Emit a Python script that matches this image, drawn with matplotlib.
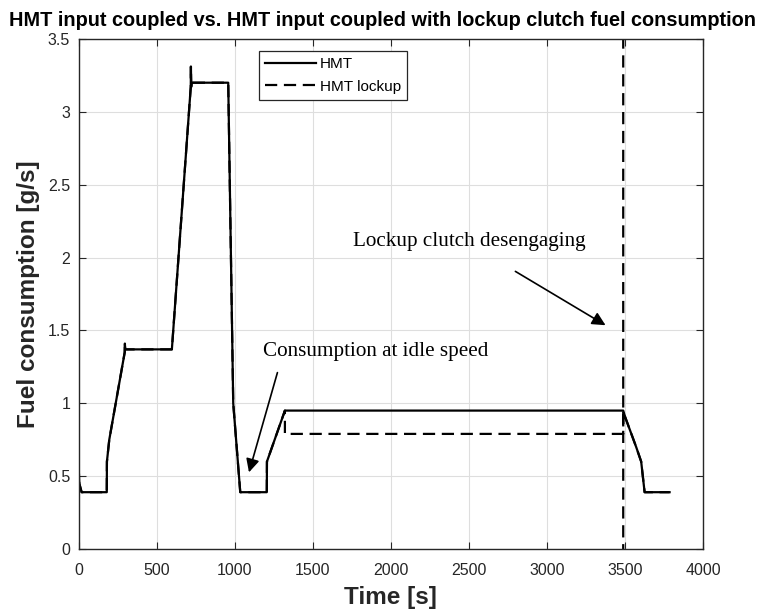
import numpy as np
import matplotlib
matplotlib.use("Agg")
import matplotlib.pyplot as plt

# Fuel consumption [g/s]
hmt_time = [0, 5, 20, 181, 182, 197, 296, 297, 299, 598, 719, 720, 722, 724,
            959, 991, 1036, 1206, 1207, 1322, 3489, 3500, 3572, 3604, 3626, 3786]
hmt_fuel = [0.59, 0.45, 0.39, 0.39, 0.60, 0.75, 1.35, 1.41, 1.37, 1.37, 3.17, 3.31, 3.17, 3.2,
            3.2, 1.0, 0.39, 0.39, 0.60, 0.95, 0.95, 0.91, 0.70, 0.60, 0.39, 0.39]

# lockup variant: same until 1322 s, then lower plateau and a spike when the clutch opens
lockup_time = [0, 5, 20, 181, 182, 197, 296, 297, 299, 598, 719, 720, 722, 724,
               959, 991, 1036, 1206, 1207, 1322, 1322, 3489, 3489, np.nan, 3489, 3489,
               3500, 3572, 3604, 3626, 3786]
lockup_fuel = [0.59, 0.45, 0.39, 0.39, 0.60, 0.75, 1.35, 1.41, 1.37, 1.37, 3.17, 3.31, 3.17, 3.2,
               3.2, 1.0, 0.39, 0.39, 0.60, 0.95, 0.79, 0.79, 4.0, np.nan, -0.5, 0.95,
               0.91, 0.70, 0.60, 0.39, 0.39]

x_ticks = [0, 500, 1000, 1500, 2000, 2500, 3000, 3500, 4000]
y_ticks = [0, 0.5, 1, 1.5, 2, 2.5, 3, 3.5]
y_tick_labels = ['0', '0.5', '1', '1.5', '2', '2.5', '3', '3.5']

plt.rcParams['font.family'] = ['Liberation Sans', 'DejaVu Sans']
txt_col = '#262626'

fig = plt.figure(figsize=(7.6, 6.12), dpi=100)
ax = fig.add_axes([0.1033, 0.1029, 0.8217, 0.8334])

ax.plot(hmt_time, hmt_fuel, color='k', lw=1.6, label='HMT')
ax.plot(lockup_time, lockup_fuel, color='k', lw=1.6, linestyle=(0, (5.5, 3.0)), label='HMT lockup')

ax.set_xlim(0, 4000)
ax.set_ylim(0, 3.5)
ax.set_xticks(x_ticks)
ax.set_yticks(y_ticks)
ax.set_yticklabels(y_tick_labels)
ax.grid(True, color='#dedede', lw=0.8)
ax.set_axisbelow(True)
ax.tick_params(direction='in', top=True, right=True, length=5, width=0.8,
               labelsize=11.5, labelcolor=txt_col, color=txt_col)
ax.tick_params(axis='x', pad=10)
ax.tick_params(axis='y', pad=6)
for s in ax.spines.values():
    s.set_color(txt_col)
    s.set_linewidth(1.0)

ax.set_xlabel('Time [s]', fontsize=17.5, fontweight='bold', color=txt_col)
ax.set_ylabel('Fuel consumption [g/s]', fontsize=17.5, fontweight='bold', color=txt_col)
ax.xaxis.set_label_coords(0.5, -0.073)
ax.yaxis.set_label_coords(-0.062, 0.5)

fig.text(0.503, 1 - 21 / 612, 'HMT input coupled vs. HMT input coupled with lockup clutch fuel consumption',
         ha='center', va='center', fontsize=14.3, fontweight='bold', color='k')

leg = ax.legend(loc='upper left', bbox_to_anchor=(0.289, 0.976), fontsize=11, handlelength=3.3,
                handletextpad=0.3, labelspacing=0.55, borderaxespad=0, fancybox=False,
                framealpha=1, edgecolor=txt_col, borderpad=0.4)
leg.get_frame().set_linewidth(0.9)

# annotations in serif like the original
serif = ['Liberation Serif', 'DejaVu Serif']
ax.text(1755, 2.11, 'Lockup clutch desengaging', family=serif, fontsize=15.2, va='center', ha='left')
ax.annotate('', xy=(3391, 1.526), xytext=(2783, 1.915),
            arrowprops=dict(arrowstyle='-|>', color='k', lw=1.2, mutation_scale=20))
ax.text(1183, 1.354, 'Consumption at idle speed', family=serif, fontsize=15.2, va='center', ha='left')
ax.annotate('', xy=(1087, 0.508), xytext=(1279, 1.229),
            arrowprops=dict(arrowstyle='-|>', color='k', lw=1.2, mutation_scale=20))

fig.savefig('out.png', dpi=100)
